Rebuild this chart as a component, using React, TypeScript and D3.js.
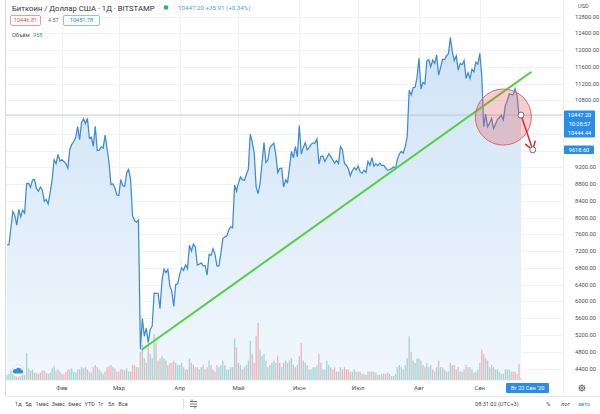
import React from 'react';
import * as d3 from 'd3';

const W = 600;
const H = 414;
const DAY = 86400000;
const FONT = 'Roboto, "Noto Sans", sans-serif';

// daily closes, BTC/USD Bitstamp, from 4 Jan 2020
const firstDay = Date.UTC(2020, 0, 4);
const closesJan = [7350, 7355, 7760, 8150, 8055, 7820, 8195, 8020, 8180, 8110, 8810, 8820, 8720, 8900, 8910, 8700, 8630, 8730, 8660, 8390, 8430, 8330, 8600, 8900, 9380, 9290, 9510, 9350];
const closesFeb = [9380, 9340, 9290, 9180, 9620, 9750, 9810, 9910, 10170, 9860, 10270, 10360, 10240, 10370, 9900, 9920, 9700, 10180, 9600, 9610, 9690, 9660, 9970, 9650, 9310, 8790, 8810, 8710, 8540];
const closesMar = [8530, 8910, 8760, 8750, 9070, 9150, 8900, 8040, 7930, 7890, 7940, 4860, 5590, 5170, 5360, 5030, 5330, 5410, 6200, 6190, 6190, 5830, 6490, 6770, 6690, 6760, 6370, 6240, 5880, 6400, 6420];
const closesApr = [6640, 6800, 6740, 6870, 6780, 7340, 7200, 7370, 7300, 6870, 6890, 6920, 6850, 6860, 6630, 7120, 7100, 7260, 7130, 6850, 6850, 7140, 7500, 7540, 7560, 7700, 7780, 7760, 8780, 8630];
const closesMay = [8830, 8970, 8900, 8890, 9030, 9150, 9990, 9810, 9540, 8730, 8570, 8820, 9310, 9790, 9320, 9380, 9670, 9730, 9780, 9510, 9070, 9170, 9180, 8730, 8900, 8840, 9200, 9580, 9430, 9700, 9450];
const closesJun = [10200, 9520, 9670, 9790, 9620, 9670, 9750, 9780, 9780, 9880, 9280, 9460, 9470, 9340, 9430, 9520, 9460, 9380, 9300, 9360, 9290, 9690, 9620, 9290, 9250, 9160, 9000, 9120, 9190, 9140];
const closesJul = [9230, 9090, 9060, 9130, 9080, 9340, 9250, 9430, 9230, 9290, 9240, 9300, 9240, 9250, 9190, 9130, 9150, 9170, 9210, 9160, 9390, 9520, 9580, 9540, 9700, 9930, 11040, 10930, 11100, 11110, 11350];
const closesAug = [11800, 11070, 11230, 11190, 11740, 11770, 11600, 11760, 11680, 11880, 11400, 11580, 11780, 11770, 11860, 11910, 12300, 11950, 11750, 11860, 11520, 11680, 11650, 11750, 11320, 11460, 11320, 11540, 11480, 11710, 11660];
const closesSep = [11920, 11390, 10170, 10470, 10170, 10260, 10370, 10130, 10230, 10340, 10390, 10440, 10330, 10680, 10790, 10950, 10940, 10930, 11080, 10920, 10411, 10447.2];

// daily volume, thousand BTC
const volJan = [2.5, 3, 4.5, 5.5, 5, 4, 4.5, 3.5, 3, 2.5, 12.5, 5.5, 4.5, 5, 3.5, 3.5, 3, 3.5, 4.5, 4.5, 3.5, 3, 3.5, 5.5, 6.5, 4.5, 5, 4];
const volFeb = [3, 3, 4, 5, 5, 5.5, 4, 3.5, 5, 5, 6, 5.5, 6, 5, 4, 3.5, 6, 7, 6, 5, 4, 3, 4, 6, 6.5, 7, 6, 5.5, 4];
const volMar = [4, 5, 5, 4.5, 5.5, 4, 4, 7, 7, 6, 6, 13, 16, 10, 8, 18, 12, 10, 21, 17, 9, 10, 11, 10, 9, 7, 8, 8, 9, 8, 7];
const volApr = [7, 8, 6, 5, 5, 10, 8, 7, 6, 6, 5, 6, 7, 5, 6, 9, 7, 5, 4, 7, 6, 7, 9, 7, 5, 5, 6, 6, 19, 15];
const volMay = [8, 7, 5, 6, 7, 9, 18, 12, 8, 20, 26, 14, 11, 12, 9, 6, 7, 8, 9, 8, 11, 8, 6, 8, 9, 8, 9, 10, 7, 6, 7];
const volJun = [11, 17, 9, 8, 7, 5, 5, 6, 6, 7, 12, 8, 5, 5, 9, 7, 6, 5, 6, 4, 4, 6, 5, 6, 5, 5, 4, 4, 5, 4];
const volJul = [4, 4, 3, 3, 2.5, 4, 4, 4, 4, 3.5, 2.5, 2.5, 3, 3, 3, 3.5, 3, 2, 2, 3, 6, 7, 6, 5, 7, 10, 20, 13, 9, 8, 10];
const volAug = [10, 9, 7, 6, 8, 6, 7, 5, 4, 6, 9, 6, 6, 5, 4, 4, 8, 7, 7, 5, 6, 4, 4, 5, 7, 6, 6, 5, 3.5, 4, 5];
const volSep = [8, 14, 12, 10, 9, 6, 7, 6, 5, 5, 4, 3, 3, 5, 5, 5, 4, 4, 4, 3, 7.5, 0.968];

const prevClose = 7340;

const priceTicks = [12800, 12400, 12000, 11600, 11200, 10800, 10400, 10000, 9600, 9200, 8800, 8400, 8000, 7600, 7200, 6800, 6400, 6000, 5600, 5200, 4800, 4400];
const hiddenTicks = [10400, 10000, 9600];
const monthStarts = ['2020-02-01', '2020-03-01', '2020-04-01', '2020-05-01', '2020-06-01', '2020-07-01', '2020-08-01', '2020-09-01'];
const monthLabels = ['Фев', 'Мар', 'Апр', 'Май', 'Июн', 'Июл', 'Авг', 'Сен'];
const rangeButtons = ['1д', '5д', '1мес', '3мес', '6мес', 'YTD', '1г', '5л', 'Все'];

// drawn annotations
const trendDates = ['2020-03-13', '2020-09-27'];
const trendPrices = [4860, 11470];
const circleDate = '2020-09-13';
const circlePrice = 10400;
const arrowDate = '2020-09-28';
const arrowPrice = 9618.6;

const closes = [...closesJan, ...closesFeb, ...closesMar, ...closesApr, ...closesMay, ...closesJun, ...closesJul, ...closesAug, ...closesSep];
const volumes = [...volJan, ...volFeb, ...volMar, ...volApr, ...volMay, ...volJun, ...volJul, ...volAug, ...volSep];
const bars = closes.map((c, i) => ({
  date: new Date(firstDay + i * DAY),
  close: c,
  vol: volumes[i],
  up: c >= (i === 0 ? prevClose : closes[i - 1]),
}));
const last = bars[bars.length - 1];

export default function App() {
  const plotL = 6;
  const plotR = 563;
  const plotB = 380.5;

  const x = d3.scaleUtc()
    .domain([new Date(firstDay), last.date])
    .range([7, 521]);
  const y = d3.scaleLinear().domain([4400, 12800]).range([368.5, 16.5]);
  const yVol = d3.scaleLinear().domain([0, 26]).range([plotB, 323]);

  const line = d3.line<typeof bars[0]>().x(d => x(d.date)).y(d => y(d.close));
  const area = d3.area<typeof bars[0]>().x(d => x(d.date)).y0(plotB).y1(d => y(d.close));

  const tx = trendDates.map(d => x(new Date(d)));
  const ty = trendPrices.map(p => y(p));

  const ax0 = x(last.date), ay0 = y(last.close);
  const ax1 = x(new Date(arrowDate)), ay1 = y(arrowPrice);
  const ang = Math.atan2(ay1 - ay0, ax1 - ax0);
  const head = [ang + Math.PI - 0.6, ang + Math.PI + 0.6].map(a => [ax1 + 9 * Math.cos(a), ay1 + 9 * Math.sin(a)]);

  const lastY = y(last.close);

  let bx = 15;
  const buttonPos = rangeButtons.map(b => {
    const p = bx;
    bx += b.length * 3.1 + 4;
    return p;
  });

  return (
    <svg width={W} height={H} style={{ position: 'absolute', left: 0, top: 0, background: '#fff', fontFamily: FONT }}>
      <defs>
        <linearGradient id="areaFill" x1="0" y1="0" x2="0" y2="1">
          <stop offset="0%" stopColor="#cfe3f7" />
          <stop offset="100%" stopColor="#f1f7fd" />
        </linearGradient>
        <clipPath id="plotClip">
          <rect x={plotL} y={0} width={plotR - plotL} height={plotB} />
        </clipPath>
      </defs>

      {/* grid */}
      <g stroke="#f0f2f6" strokeWidth={1}>
        {priceTicks.map(t => (
          <line key={t} x1={plotL} x2={plotR} y1={Math.round(y(t)) + 0.5} y2={Math.round(y(t)) + 0.5} />
        ))}
        {monthStarts.map(m => (
          <line key={m} x1={Math.round(x(new Date(m))) + 0.5} x2={Math.round(x(new Date(m))) + 0.5} y1={0} y2={plotB} />
        ))}
      </g>

      <g clipPath="url(#plotClip)">
        <path d={area(bars) || ''} fill="url(#areaFill)" />
        {bars.map((b, i) => (
          <rect key={i} x={x(b.date) - 0.65} width={1.3} y={yVol(b.vol)} height={plotB - yVol(b.vol)}
            fill={b.up ? '#26a69a' : '#ef5350'} fillOpacity={0.4} />
        ))}
        <line x1={plotL} x2={plotR} y1={lastY} y2={lastY} stroke="#c3c6cc" strokeWidth={1} />
        <path d={line(bars) || ''} fill="none" stroke="#3d8bd4" strokeWidth={1.25} />
        <line x1={tx[0]} y1={ty[0]} x2={tx[1]} y2={ty[1]} stroke="#4fd23f" strokeWidth={2} strokeLinecap="round" />
        <circle cx={x(new Date(circleDate))} cy={y(circlePrice)} r={28} fill="#e35d5d" fillOpacity={0.3} stroke="#e06666" strokeWidth={1} />
        <line x1={ax0} y1={ay0} x2={ax1} y2={ay1} stroke="#d32f2f" strokeWidth={1.5} />
        {head.map((h, i) => (
          <line key={i} x1={ax1} y1={ay1} x2={h[0]} y2={h[1]} stroke="#d32f2f" strokeWidth={1.5} strokeLinecap="round" />
        ))}
        <circle cx={ax0} cy={ay0} r={3} fill="#fff" stroke="#6b6f78" strokeWidth={1} />
        <circle cx={ax1} cy={ay1} r={3} fill="#fff" stroke="#6b6f78" strokeWidth={1} />
      </g>

      {/* frame lines */}
      <line x1={5.5} x2={5.5} y1={0} y2={396} stroke="#d6d9df" />
      <line x1={plotR + 0.5} x2={plotR + 0.5} y1={0} y2={396} stroke="#eceef2" />
      <line x1={plotL} x2={W} y1={396.5} y2={396.5} stroke="#e6e8ec" />

      {/* logo */}
      <circle cx={18} cy={371} r={6} fill="#fff" stroke="#e1e4ea" />
      <path d="M14.2,373.5 h7.6 a2,2 0 0 0 -0.6,-3.9 a2.8,2.8 0 0 0 -5.2,-0.4 a2,2 0 0 0 -1.8,4.3z" fill="#2f8fe0" />

      {/* price axis */}
      <text x={578} y={8} fontSize={5.6} fill="#555">USD</text>
      {priceTicks.filter(t => !hiddenTicks.includes(t)).map(t => (
        <text key={t} x={575} y={y(t)} dy="0.35em" fontSize={5.8} fill="#4a4e57">{d3.format('.2f')(t)}</text>
      ))}
      <rect x={564} y={lastY - 4.5} width={31} height={27} rx={1} fill="#2a8de6" />
      <text x={579.5} y={lastY} dy="0.35em" textAnchor="middle" fontSize={5.6} fill="#fff">{d3.format('.2f')(last.close)}</text>
      <text x={579.5} y={lastY + 9} dy="0.35em" textAnchor="middle" fontSize={5.6} fill="#fff">10:28:57</text>
      <text x={579.5} y={lastY + 18} dy="0.35em" textAnchor="middle" fontSize={5.6} fill="#fff">10444.44</text>
      <rect x={564} y={ay1 - 4.2} width={30} height={8.4} rx={1} fill="#2a8de6" />
      <text x={579} y={ay1} dy="0.35em" textAnchor="middle" fontSize={5.6} fill="#fff">{d3.format('.2f')(arrowPrice)}</text>

      {/* time axis */}
      {monthStarts.map((m, i) => (
        <text key={m} x={x(new Date(m))} y={388} dy="0.35em" textAnchor="middle" fontSize={6} fill="#4a4e57">{monthLabels[i]}</text>
      ))}
      <rect x={506} y={383} width={43} height={10} rx={1} fill="#2a8de6" />
      <text x={527.5} y={388} dy="0.35em" textAnchor="middle" fontSize={5.6} fill="#fff">Вт 22 Сен '20</text>

      {/* gear */}
      <g transform="translate(582,388)" stroke="#555" fill="none" strokeWidth={0.9}>
        <circle r={2.6} />
        <circle r={1} />
        {d3.range(8).map(k => (
          <line key={k} x1={2.6 * Math.cos(k * Math.PI / 4)} y1={2.6 * Math.sin(k * Math.PI / 4)}
            x2={3.6 * Math.cos(k * Math.PI / 4)} y2={3.6 * Math.sin(k * Math.PI / 4)} />
        ))}
      </g>

      {/* bottom toolbar */}
      {rangeButtons.map((b, i) => (
        <text key={b} x={buttonPos[i]} y={404} dy="0.35em" fontSize={5.6} fill="#3c3f46">{b}</text>
      ))}
      <line x1={183.5} x2={183.5} y1={399} y2={409} stroke="#e0e3e8" />
      <g stroke="#555" strokeWidth={0.8} fill="none">
        <path d="M190,401.5 h7 M190,404 h7 M190,406.5 h7" />
        <path d="M192,399.5 v2 M195,406.5 v2" />
      </g>
      <text x={475} y={404} dy="0.35em" fontSize={5.6} fill="#3c3f46">08:31:02 (UTC+3)</text>
      <text x={546} y={404} dy="0.35em" fontSize={6} fill="#3c3f46">%</text>
      <text x={561} y={404} dy="0.35em" fontSize={5.8} fill="#3c3f46" fontStyle="italic">лог</text>
      <text x={578} y={404} dy="0.35em" fontSize={5.6} fill="#2a8de6">авто</text>

      {/* legend header */}
      <text x={12} y={8} dy="0.35em" fontSize={7.7} fill="#2e3138">Биткоин / Доллар США · 1Д · BITSTAMP</text>
      <circle cx={166} cy={7.5} r={2.3} fill="#26b36b" />
      <text x={178} y={8} dy="0.35em" fontSize={6.2} fill="#4a9fd6">10447.20 +35.91 (+0.34%)</text>
      <rect x={10.5} y={15.5} width={30} height={10} rx={1.5} fill="#fff" stroke="#ef9a9a" />
      <text x={25.5} y={20.5} dy="0.35em" textAnchor="middle" fontSize={5.6} fill="#e05555">10446.81</text>
      <text x={48} y={20.5} dy="0.35em" fontSize={5.4} fill="#666">4.57</text>
      <rect x={63.5} y={15.5} width={36} height={10} rx={1.5} fill="#fff" stroke="#8fc1ec" />
      <text x={81.5} y={20.5} dy="0.35em" textAnchor="middle" fontSize={5.6} fill="#2a8de6">10451.78</text>
      <text x={12} y={35} dy="0.35em" fontSize={5.6} fill="#4a4e57">Объём</text>
      <text x={33} y={35} dy="0.35em" fontSize={5.6} fill="#26a69a">968</text>
    </svg>
  );
}
